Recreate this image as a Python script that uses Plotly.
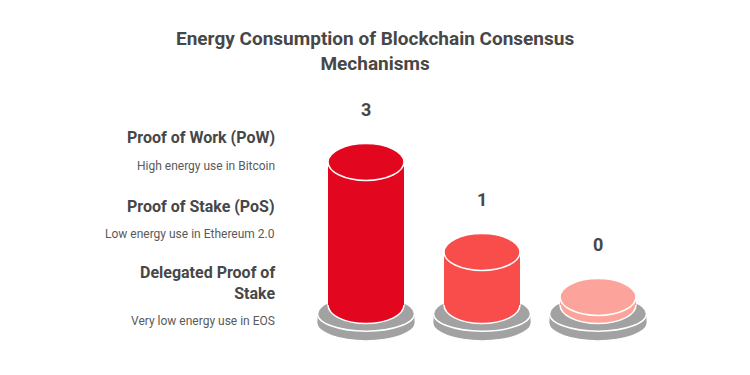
import plotly.graph_objects as go

# ---- data ----
categories = ["Proof of Work (PoW)", "Proof of Stake (PoS)", "Delegated Proof of<br>Stake"]
descriptions = ["High energy use in Bitcoin", "Low energy use in Ethereum 2.0", "Very low energy use in EOS"]
values = [3, 1, 0]
bar_colors = ["#E2071F", "#F94D4C", "#FCA49C"]

# ---- style ----
OFF = 8               # page body margin
W, H = 750 - OFF, 375 - OFF
BASE = -0.18          # visual stub below zero so a 0 value still shows a disc
BAR_W = 0.655
RY = 0.41             # ellipse half-height (data units)
PED_RX = 0.418
PED_RY = 0.39
GRAY = "#A2A2A2"
TXT = "#474747"


def px(p):
    return (p - OFF) / W


def py(p):
    return 1 - (p - OFF) / H


xs = list(range(len(values)))

fig = go.Figure()
fig.add_trace(go.Bar(
    x=xs, y=[v - BASE for v in values], base=[BASE] * len(values),
    width=BAR_W, marker=dict(color=bar_colors, line=dict(width=0)),
    hoverinfo="skip", showlegend=False,
))

shapes = []
for x, v, c in zip(xs, values, bar_colors):
    py_top = BASE - 0.19
    py_bot = py_top - 0.2
    shapes.append(dict(type="circle", layer="below", xref="x", yref="y",
                       x0=x - PED_RX, x1=x + PED_RX, y0=py_bot - PED_RY, y1=py_bot + PED_RY,
                       fillcolor=GRAY, line=dict(width=0)))
    shapes.append(dict(type="rect", layer="below", xref="x", yref="y",
                       x0=x - PED_RX, x1=x + PED_RX, y0=py_bot, y1=py_top,
                       fillcolor=GRAY, line=dict(width=0)))
    shapes.append(dict(type="circle", layer="below", xref="x", yref="y",
                       x0=x - PED_RX, x1=x + PED_RX, y0=py_top - PED_RY, y1=py_top + PED_RY,
                       fillcolor=GRAY, line=dict(color="white", width=1.5)))
    shapes.append(dict(type="circle", layer="below", xref="x", yref="y",
                       x0=x - BAR_W / 2, x1=x + BAR_W / 2, y0=BASE - RY, y1=BASE + RY,
                       fillcolor=c, line=dict(color="white", width=1.5)))
    shapes.append(dict(type="circle", layer="above", xref="x", yref="y",
                       x0=x - BAR_W / 2, x1=x + BAR_W / 2, y0=v - RY, y1=v + RY,
                       fillcolor=c, line=dict(color="white", width=1.5)))

annotations = []
for x, v in zip(xs, values):
    annotations.append(dict(x=x, y=v, xref="x", yref="y", text=f"<b>{v}</b>",
                            showarrow=False, yshift=53,
                            font=dict(family="Roboto", size=18, color=TXT)))

label_y = [137, 206, 283]
desc_y = [166, 234, 321]
for name, desc, ly, dy in zip(categories, descriptions, label_y, desc_y):
    annotations.append(dict(x=px(277), y=py(ly), xref="paper", yref="paper",
                            xanchor="right", yanchor="middle", align="right",
                            text=f"<b>{name}</b>", showarrow=False,
                            font=dict(family="Roboto", size=16, color=TXT)))
    annotations.append(dict(x=px(277), y=py(dy), xref="paper", yref="paper",
                            xanchor="right", yanchor="middle", align="right",
                            text=desc, showarrow=False,
                            font=dict(family="Roboto", size=12, color="#5a5a5a")))

annotations.append(dict(x=px(375), y=py(51), xref="paper", yref="paper",
                        xanchor="center", yanchor="middle", align="center",
                        text="<b>Energy Consumption of Blockchain Consensus<br>Mechanisms</b>",
                        showarrow=False, font=dict(family="Roboto", size=19, color=TXT)))

# axis scaling: 1 y unit = 45 px, y=0 at page 297 px; 1 x unit = 116 px, x=0 at page 366 px
py_unit = 45.0
y0_px = 297.0 - OFF
ymin = -(H - y0_px) / py_unit
ymax = ymin + H / py_unit
px_unit = 116.0
xmin = -(366.0 - OFF) / px_unit
xmax = xmin + W / px_unit

fig.update_layout(
    width=W, height=H, margin=dict(l=0, r=0, t=0, b=0),
    paper_bgcolor="white", plot_bgcolor="white",
    xaxis=dict(range=[xmin, xmax], visible=False, fixedrange=True),
    yaxis=dict(range=[ymin, ymax], visible=False, fixedrange=True),
    shapes=shapes, annotations=annotations, showlegend=False,
    bargap=0,
)

fig.write_html("out.html")
